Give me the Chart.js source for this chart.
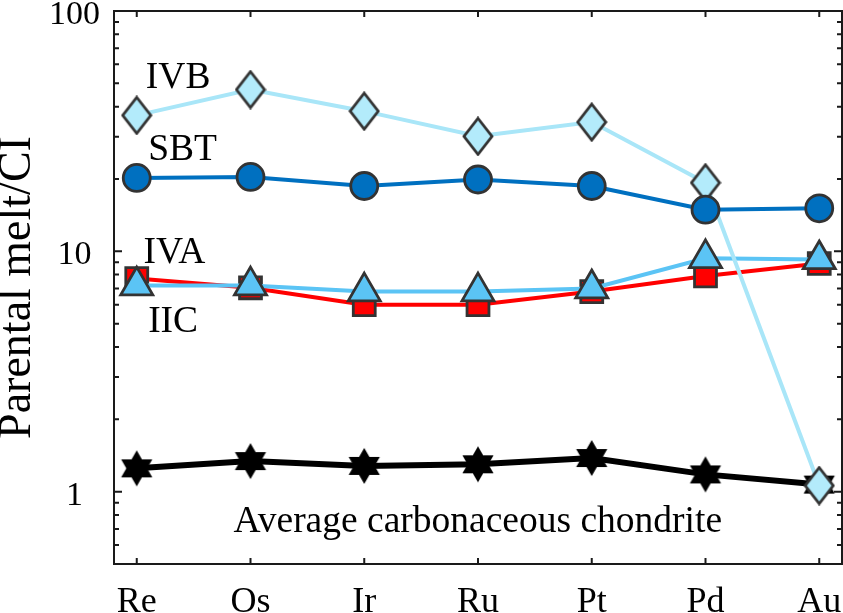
<!DOCTYPE html>
<html>
<head>
<meta charset="utf-8">
<script src="https://cdn.jsdelivr.net/npm/chart.js@4.4.1/dist/chart.umd.min.js"></script>
<style>
  body { margin: 0; background: #fff; }
  #wrap { width: 843px; height: 613px; }
</style>
</head>
<body>
<div id="wrap"><canvas id="chart"></canvas></div>
<script>
// elements along the x axis
const elements = ['Re', 'Os', 'Ir', 'Ru', 'Pt', 'Pd', 'Au'];

// parental melt / CI ratios
const ivb = [36.8, 47.1, 38.3, 30.1, 34.5, 19.3, 1.06];
const sbt = [20.2, 20.4, 18.7, 19.9, 18.7, 14.9, 15.1];
const iva = [7.2, 7.2, 6.8, 6.8, 7.0, 9.35, 9.25];
const iic = [7.7, 7.05, 6.0, 6.0, 6.8, 7.9, 8.9];
const chondrite = [1.25, 1.34, 1.28, 1.30, 1.38, 1.18, 1.07];

const yTickLabels = [1, 10, 100];
const yMinorTicks = [0.5, 0.6, 0.7, 0.8, 0.9, 2, 3, 4, 5, 6, 7, 8, 9, 20, 30, 40, 50, 60, 70, 80, 90];

// text labels in data coordinates [text, x, y]
const notes = [
    ['IVB', 1.08, 47.7],
    ['SBT', 1.10, 23.9],
    ['IVA', 1.06, 8.93],
    ['IIC', 1.10, 4.61],
    ['Average carbonaceous chondrite', 1.85, 0.68]
];

const serif = '"Liberation Serif", "Times New Roman", serif';
const edge = '#333333';

function toPoints(arr) {
    return arr.map((v, i) => ({ x: i + 1, y: v }));
}

function diamondMarker(w, h, fill) {
    const c = document.createElement('canvas');
    c.width = w + 4; c.height = h + 4;
    const g = c.getContext('2d');
    const cx = c.width / 2, cy = c.height / 2;
    g.beginPath();
    g.moveTo(cx, cy - h / 2);
    g.lineTo(cx + w / 2, cy);
    g.lineTo(cx, cy + h / 2);
    g.lineTo(cx - w / 2, cy);
    g.closePath();
    g.fillStyle = fill; g.fill();
    g.lineWidth = 2.8; g.strokeStyle = edge; g.lineJoin = 'miter'; g.stroke();
    return c;
}

function hexagramMarker(R) {
    const c = document.createElement('canvas');
    c.width = Math.ceil(2 * R) + 4; c.height = Math.ceil(2 * R) + 4;
    const g = c.getContext('2d');
    const cx = c.width / 2, cy = c.height / 2;
    const r = R / Math.sqrt(3);
    g.beginPath();
    for (let i = 0; i < 12; i++) {
        const a = -Math.PI / 2 + i * Math.PI / 6;
        const rr = i % 2 === 0 ? R : r;
        const px = cx + rr * Math.cos(a), py = cy + rr * Math.sin(a);
        if (i === 0) g.moveTo(px, py); else g.lineTo(px, py);
    }
    g.closePath();
    g.fillStyle = '#000'; g.fill();
    return c;
}

const diamondImg = diamondMarker(28, 36, '#b3ebfb');
const starImg = hexagramMarker(18);

const frame = {
    id: 'frame',
    afterDatasetsDraw(chart) {
        const { ctx, chartArea: a, scales: { x, y } } = chart;
        ctx.save();
        ctx.strokeStyle = '#1a1a1a';
        ctx.lineWidth = 2;
        ctx.beginPath();
        yTickLabels.forEach(v => {
            const py = y.getPixelForValue(v);
            ctx.moveTo(a.left, py); ctx.lineTo(a.left + 8, py);
            ctx.moveTo(a.right, py); ctx.lineTo(a.right - 8, py);
        });
        yMinorTicks.forEach(v => {
            const py = y.getPixelForValue(v);
            ctx.moveTo(a.left, py); ctx.lineTo(a.left + 5, py);
            ctx.moveTo(a.right, py); ctx.lineTo(a.right - 5, py);
        });
        elements.forEach((e, i) => {
            const px = x.getPixelForValue(i + 1);
            ctx.moveTo(px, a.bottom); ctx.lineTo(px, a.bottom - 6);
            ctx.moveTo(px, a.top); ctx.lineTo(px, a.top + 6);
        });
        ctx.stroke();
        ctx.strokeRect(a.left, a.top, a.right - a.left, a.bottom - a.top);

        ctx.fillStyle = '#000';
        ctx.font = '37.5px ' + serif;
        ctx.textAlign = 'left';
        ctx.textBaseline = 'alphabetic';
        notes.forEach(([t, nx, ny]) => {
            ctx.fillText(t, x.getPixelForValue(nx), y.getPixelForValue(ny));
        });
        ctx.restore();
    }
};

function series(data, color, width, style, radius, fill, order) {
    return {
        data: toPoints(data),
        borderColor: color,
        borderWidth: width,
        pointStyle: style,
        pointRadius: radius,
        pointHoverRadius: radius,
        pointBackgroundColor: fill,
        pointBorderColor: edge,
        pointBorderWidth: 2.8,
        order: order,
        tension: 0
    };
}

new Chart(document.getElementById('chart'), {
    type: 'line',
    data: {
        datasets: [
            series(sbt, '#0070c0', 4, 'circle', 13.5, '#0070c0', 0),
            series(ivb, '#a9e6f8', 4, diamondImg, 14, '#b3ebfb', 1),
            series(iva, '#5bc4f5', 4, 'triangle', 18.5, '#5bc4f5', 2),
            series(iic, '#ff0000', 4, 'rect', 15.5, '#ff0000', 3),
            series(chondrite, '#000000', 6, starImg, 18, '#000000', 4)
        ]
    },
    options: {
        responsive: true,
        maintainAspectRatio: false,
        animation: false,
        layout: { autoPadding: false, padding: { top: 11, right: 1, left: 0, bottom: 0 } },
        plugins: { legend: { display: false }, tooltip: { enabled: false } },
        scales: {
            x: {
                type: 'linear',
                min: 0.8,
                max: 7.2,
                grid: { display: false, drawTicks: false },
                border: { display: false },
                afterBuildTicks: (s) => { s.ticks = elements.map((e, i) => ({ value: i + 1 })); },
                afterFit: (s) => {
                    s.height = 49;
                    s.paddingLeft = 0; s.paddingRight = 0;
                },
                ticks: {
                    autoSkip: false,
                    maxRotation: 0,
                    padding: 17,
                    color: '#000',
                    font: { family: serif, size: 36 },
                    callback: (v) => elements[v - 1]
                }
            },
            y: {
                type: 'logarithmic',
                min: 0.5,
                max: 100,
                grid: { display: false, drawTicks: false },
                border: { display: false },
                afterBuildTicks: (s) => { s.ticks = yTickLabels.map(v => ({ value: v })); },
                afterFit: (s) => {
                    s.width = 114;
                    s.paddingTop = 0; s.paddingBottom = 0;
                },
                title: {
                    display: true,
                    text: 'Parental melt/CI',
                    color: '#000',
                    font: { family: serif, size: 46, lineHeight: 0.8 },
                    padding: { top: 0, bottom: 0 }
                },
                ticks: {
                    autoSkip: false,
                    crossAlign: 'center',
                    padding: 14,
                    labelOffset: 4,
                    color: '#000',
                    font: { family: serif, size: 34 },
                    callback: (v) => String(v)
                }
            }
        }
    },
    plugins: [frame]
});
</script>
</body>
</html>
